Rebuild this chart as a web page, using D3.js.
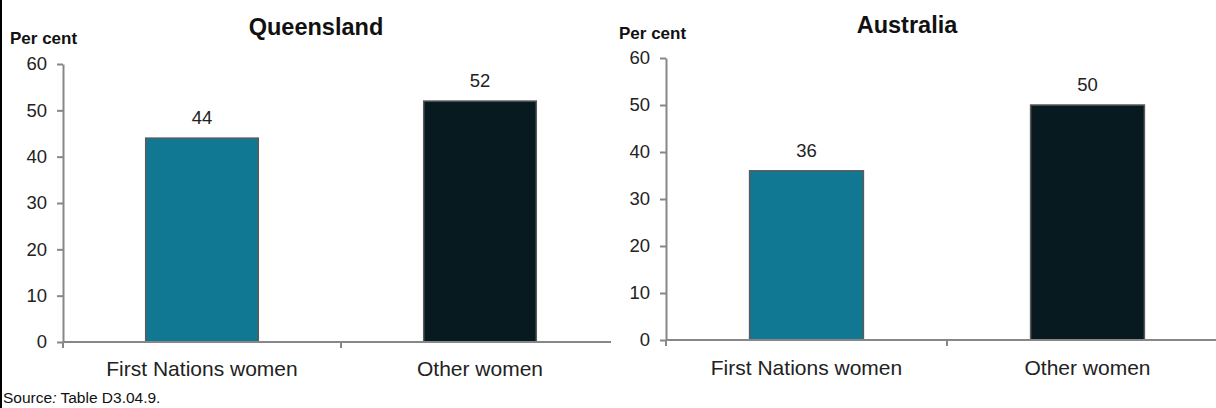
<!DOCTYPE html>
<html>
<head>
<meta charset="utf-8">
<script src="https://cdn.jsdelivr.net/npm/d3@7"></script>
<style>
  html, body { margin: 0; padding: 0; background: #fff; }
  svg { display: block; font-family: "Liberation Sans", Arial, sans-serif; }
</style>
</head>
<body>
<svg id="chart" width="1216" height="408"></svg>
<script>
// Proportion of women (per cent), by group
const categories = ["First Nations women", "Other women"];
const queenslandValues = [44, 52];
const australiaValues = [36, 50];
const yTicks = [0, 10, 20, 30, 40, 50, 60];
const barColors = ["#107892", "#071a20"];

const svg = d3.select("#chart");

// frame line down the left edge
svg.append("line")
  .attr("x1", 1).attr("x2", 1).attr("y1", 0).attr("y2", 408)
  .attr("stroke", "#000").attr("stroke-width", 2);

function panel(opts) {
  const g = svg.append("g");
  const y = d3.scaleLinear().domain([0, 60]).range([opts.yBottom, opts.yTop]);
  const x = d3.scaleBand().domain(categories).range([opts.xLeft, opts.xRight]).padding(0);
  const axisColor = "#878787";

  // title and unit label
  g.append("text")
    .attr("x", opts.titleX).attr("y", opts.titleY)
    .attr("text-anchor", "middle")
    .attr("font-size", 23.5).attr("font-weight", "bold").attr("fill", "#111")
    .text(opts.title);
  g.append("text")
    .attr("x", opts.unitX).attr("y", opts.unitY)
    .attr("font-size", 17).attr("font-weight", "bold").attr("fill", "#111")
    .text("Per cent");

  // y axis
  const yAxis = g.append("g")
    .attr("transform", `translate(${opts.xLeft},0)`)
    .call(d3.axisLeft(y).tickValues(yTicks).tickSize(6).tickSizeOuter(0).tickPadding(10));
  yAxis.select(".domain").attr("stroke", axisColor).attr("stroke-width", 2);
  yAxis.selectAll(".tick line").attr("stroke", axisColor).attr("stroke-width", 2);
  yAxis.selectAll(".tick text")
    .attr("font-size", 18.5).attr("fill", "#222")
    .attr("font-family", "'Liberation Sans', Arial, sans-serif");

  // bars
  const barW = x.bandwidth() * 0.405;
  g.selectAll("rect.bar")
    .data(opts.values)
    .join("rect")
    .attr("class", "bar")
    .attr("x", (d, i) => x(categories[i]) + (x.bandwidth() - barW) / 2)
    .attr("width", barW)
    .attr("y", d => y(d))
    .attr("height", d => y(0) - y(d))
    .attr("fill", (d, i) => barColors[i])
    .attr("stroke", "#5a5a5a").attr("stroke-width", 1.5);

  // value labels
  g.selectAll("text.val")
    .data(opts.values)
    .join("text")
    .attr("class", "val")
    .attr("x", (d, i) => x(categories[i]) + x.bandwidth() / 2)
    .attr("y", d => y(d) - 14)
    .attr("text-anchor", "middle")
    .attr("font-size", 18.5).attr("fill", "#222")
    .text(d => d);

  // x axis line with category boundary ticks
  g.append("line")
    .attr("x1", opts.xLeft).attr("x2", opts.axisEnd)
    .attr("y1", y(0)).attr("y2", y(0))
    .attr("stroke", axisColor).attr("stroke-width", 2);
  const bounds = [x(categories[0]), x(categories[1])];
  g.selectAll("line.bound")
    .data(bounds)
    .join("line")
    .attr("class", "bound")
    .attr("x1", d => d).attr("x2", d => d)
    .attr("y1", y(0)).attr("y2", y(0) + 6)
    .attr("stroke", axisColor).attr("stroke-width", 2);

  // category labels
  g.selectAll("text.cat")
    .data(categories)
    .join("text")
    .attr("class", "cat")
    .attr("x", d => x(d) + x.bandwidth() / 2)
    .attr("y", opts.catY)
    .attr("text-anchor", "middle")
    .attr("font-size", 21).attr("fill", "#222")
    .text(d => d);
}

panel({
  title: "Queensland", values: queenslandValues,
  xLeft: 63, xRight: 619, axisEnd: 611,
  yTop: 64, yBottom: 342,
  titleX: 316, titleY: 35, unitX: 10, unitY: 44, catY: 376
});

panel({
  title: "Australia", values: australiaValues,
  xLeft: 666, xRight: 1228, axisEnd: 1216,
  yTop: 58, yBottom: 340,
  titleX: 907, titleY: 33, unitX: 619, unitY: 39, catY: 375
});

// source note
const src = svg.append("text")
  .attr("x", 3).attr("y", 403)
  .attr("font-size", 15.5).attr("fill", "#111");
src.append("tspan").text("Source");
src.append("tspan").attr("font-style", "italic").text(":");
src.append("tspan").text(" Table D3.04.9.");
</script>
</body>
</html>
